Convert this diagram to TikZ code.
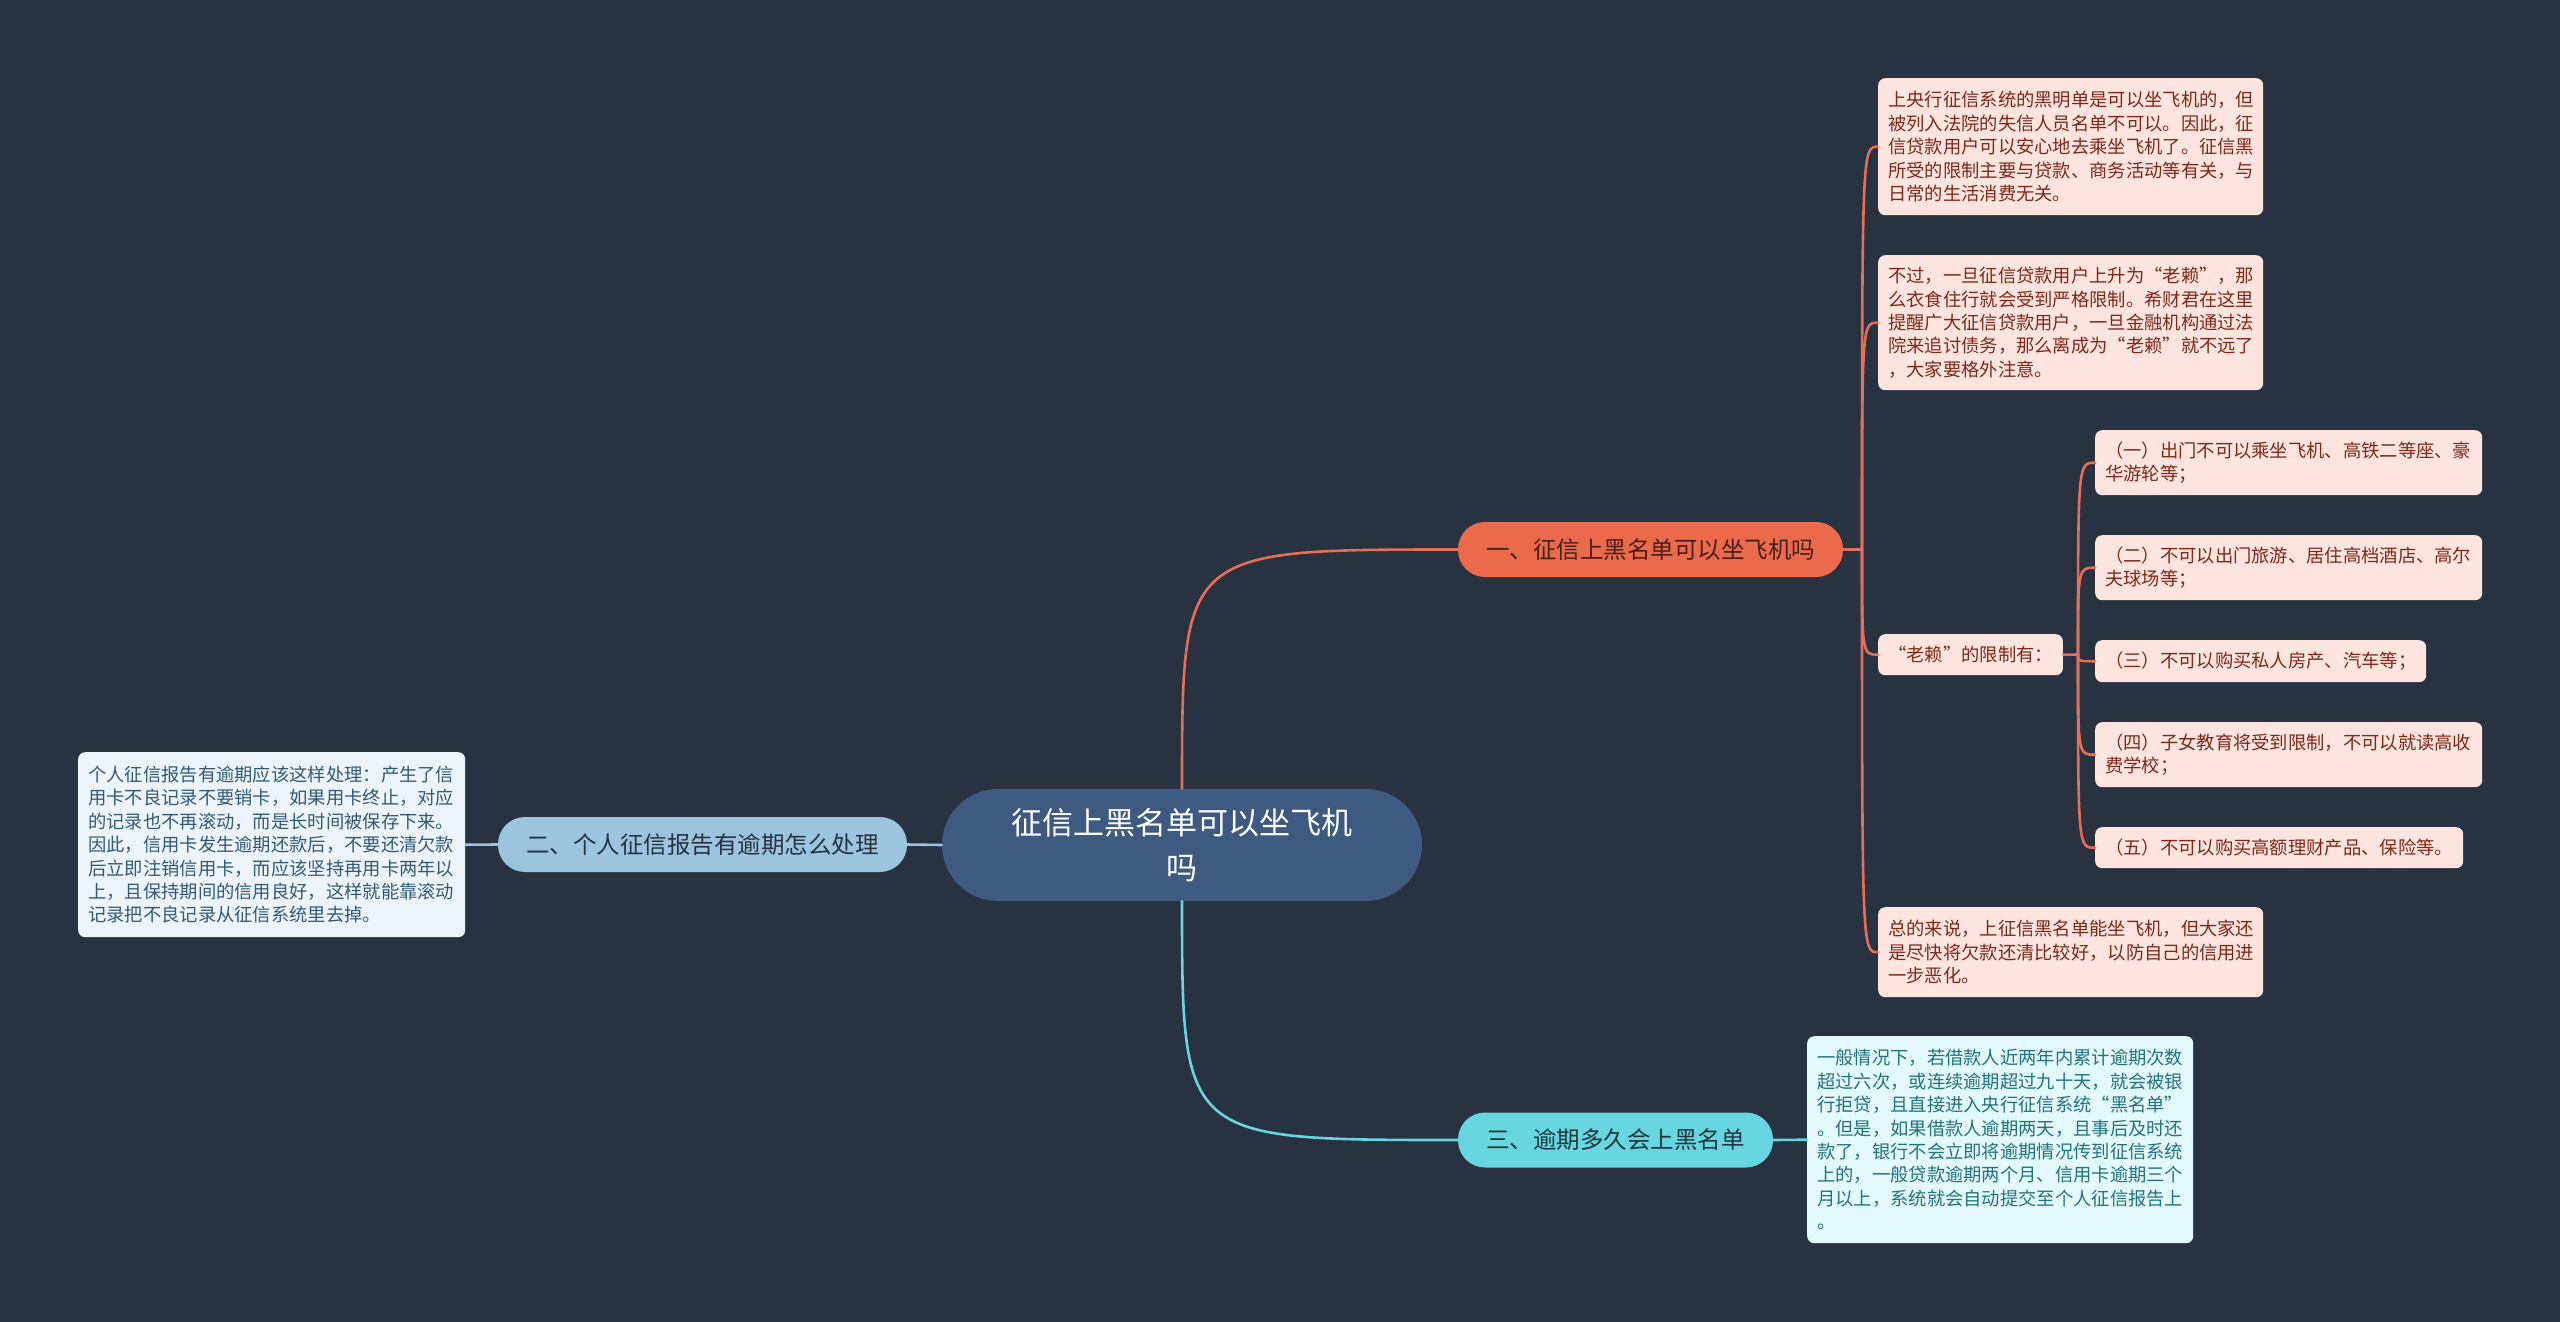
\documentclass[tikz,border=0pt]{standalone}
\usepackage{fontspec}
\setmainfont{Noto Sans CJK SC}
\definecolor{bgc}{RGB}{41,50,65}
\definecolor{cfill}{RGB}{62,90,128}
\definecolor{oFill}{RGB}{236,106,76}
\definecolor{oLine}{RGB}{230,110,85}
\definecolor{oLeaf}{RGB}{253,228,222}
\definecolor{oText}{RGB}{125,40,25}
\definecolor{oDark}{RGB}{70,32,26}
\definecolor{bFill}{RGB}{155,196,222}
\definecolor{bLeaf}{RGB}{236,244,249}
\definecolor{bText}{RGB}{50,90,120}
\definecolor{bDark}{RGB}{40,50,65}
\definecolor{tFill}{RGB}{103,214,224}
\definecolor{tLeaf}{RGB}{226,248,250}
\definecolor{tText}{RGB}{35,115,125}
\definecolor{tDark}{RGB}{30,55,60}
\tikzset{
  pill/.style={rounded corners=27pt, minimum height=55pt, inner sep=0pt, font=\fontsize{23.5}{28}\selectfont},
  leafbox/.style={anchor=north west, rounded corners=7pt, align=left, inner xsep=10pt, inner ysep=0pt, font=\fontsize{18.3}{23.4}\selectfont},
  oleaf/.style={leafbox, fill=oLeaf, text=oText},
  conn/.style={line width=2.6pt, line cap=round},
}
\begin{document}
\begin{tikzpicture}[x=1pt,y=-1pt]
\useasboundingbox (0,0) rectangle (2560,1322);
\fill[bgc] (0,0) rectangle (2560,1322);

% central
\node[fill=cfill, text=white, rounded corners=56pt, minimum width=480pt, minimum height=112pt, inner sep=0pt, align=center, font=\fontsize{31}{45}\selectfont] (c) at (1182,845) {征信上黑名单可以坐飞机\\吗};

% branches
\node[pill, fill=oFill, text=oDark, minimum width=385pt] (b1) at (1650.5,549.5) {一、征信上黑名单可以坐飞机吗};
\node[pill, fill=bFill, text=bDark, minimum width=409pt] (b2) at (702.5,844.5) {二、个人征信报告有逾期怎么处理};
\node[pill, fill=tFill, text=tDark, minimum width=315pt] (b3) at (1615.5,1140) {三、逾期多久会上黑名单};

% branch 1 leaves
\node[oleaf, text width=365pt, minimum height=137pt] (A) at (1878,78) {上央行征信系统的黑明单是可以坐飞机的，但\\被列入法院的失信人员名单不可以。因此，征\\信贷款用户可以安心地去乘坐飞机了。征信黑\\所受的限制主要与贷款、商务活动等有关，与\\日常的生活消费无关。};
\node[oleaf, text width=365pt, minimum height=135pt] (B) at (1878,255) {不过，一旦征信贷款用户上升为“老赖”，那\\么衣食住行就会受到严格限制。希财君在这里\\提醒广大征信贷款用户，一旦金融机构通过法\\院来追讨债务，那么离成为“老赖”就不远了\\，大家要格外注意。};
\node[oleaf, minimum width=184pt, minimum height=41pt, align=center] (L) at (1878,634) {“老赖”的限制有：};
\node[oleaf, text width=365pt, minimum height=90pt] (D) at (1878,907) {总的来说，上征信黑名单能坐飞机，但大家还\\是尽快将欠款还清比较好，以防自己的信用进\\一步恶化。};

% sub leaves
\node[oleaf, text width=367pt, minimum height=65pt] (S1) at (2095,430) {（一）出门不可以乘坐飞机、高铁二等座、豪\\华游轮等；};
\node[oleaf, text width=367pt, minimum height=65pt] (S2) at (2095,535) {（二）不可以出门旅游、居住高档酒店、高尔\\夫球场等；};
\node[oleaf, text width=311pt, minimum height=42pt] (S3) at (2095,640) {（三）不可以购买私人房产、汽车等；};
\node[oleaf, text width=367pt, minimum height=65pt] (S4) at (2095,722) {（四）子女教育将受到限制，不可以就读高收\\费学校；};
\node[oleaf, text width=348pt, minimum height=41pt] (S5) at (2095,827) {（五）不可以购买高额理财产品、保险等。};

% branch 2 leaf
\node[leafbox, fill=bLeaf, text=bText, text width=367pt, minimum height=185pt] (F) at (78,752) {个人征信报告有逾期应该这样处理：产生了信\\用卡不良记录不要销卡，如果用卡终止，对应\\的记录也不再滚动，而是长时间被保存下来。\\因此，信用卡发生逾期还款后，不要还清欠款\\后立即注销信用卡，而应该坚持再用卡两年以\\上，且保持期间的信用良好，这样就能靠滚动\\记录把不良记录从征信系统里去掉。};

% branch 3 leaf
\node[leafbox, fill=tLeaf, text=tText, text width=366pt, minimum height=207pt] (E) at (1807,1036) {一般情况下，若借款人近两年内累计逾期次数\\超过六次，或连续逾期超过九十天，就会被银\\行拒贷，且直接进入央行征信系统“黑名单”\\。但是，如果借款人逾期两天，且事后及时还\\款了，银行不会立即将逾期情况传到征信系统\\上的，一般贷款逾期两个月、信用卡逾期三个\\月以上，系统就会自动提交至个人征信报告上\\。};

% connectors from centre
\draw[conn, oLine] (c.north) .. controls (c.north |- b1.west) .. (b1.west);
\draw[conn, tFill] (c.south) .. controls (c.south |- b3.west) .. (b3.west);
\draw[conn, bFill] (c.west) -- (b2.east);
\draw[conn, bFill] (b2.west) -- (F.east);
\draw[conn, tFill] (b3.east) -- (E.west);

% branch 1 trunk
\coordinate (t1) at (1862,549.5);
\draw[conn, oLine] (b1.east) -- (t1);
\foreach \n in {A,B,L,D}{
  \draw[conn, oLine] (t1) .. controls (t1 |- \n.west) .. (\n.west);
}
\coordinate (t2) at (2078,654.5);
\draw[conn, oLine] (L.east) -- (t2);
\foreach \n in {S1,S2,S3,S4,S5}{
  \draw[conn, oLine] (t2) .. controls (t2 |- \n.west) .. (\n.west);
}
\end{tikzpicture}
\end{document}
